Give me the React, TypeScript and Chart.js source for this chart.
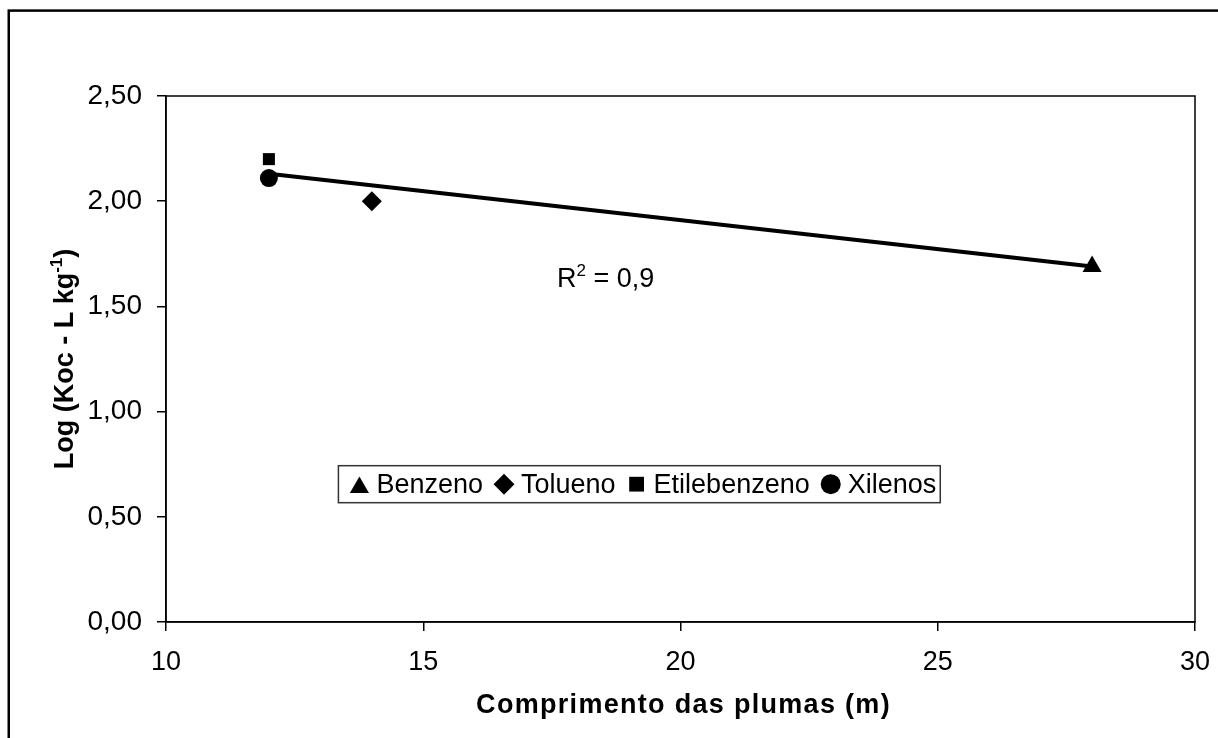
import React, { useEffect, useRef } from "react";
import { Chart, registerables } from "chart.js";

Chart.register(...registerables);

// ---- data ----
const seriesNames = ["Benzeno", "Tolueno", "Etilebenzeno", "Xilenos"];
const seriesX = [28, 14, 12, 12];
const seriesY = [1.69, 2.0, 2.2, 2.11];
const seriesStyles = ["triangle", "rectRot", "rect", "circle"];
const trendX = [12, 28];
const trendY = [2.13, 1.69];
const xTickValues = [10, 15, 20, 25, 30];
const yTickValues = [0, 0.5, 1, 1.5, 2, 2.5];
const xTitle = "Comprimento das plumas (m)";
const yTitleMain = "Log (Koc - L kg";
const yTitleSup = "-1";
const yTitleEnd = ")";
const r2Base = "R";
const r2Sup = "2";
const r2Rest = " = 0,9";

// ---- styles ----
const FONT = '"Liberation Sans", Arial, sans-serif';
const markerRadius = [11, 10, 8.5, 9];
const legendMarkerRadius = [13, 11, 11, 10];

function drawMarker(ctx: CanvasRenderingContext2D, style: string, x: number, y: number, r: number) {
  ctx.beginPath();
  if (style === "triangle") {
    for (let i = 0; i < 3; i++) {
      const a = (i * 2 * Math.PI) / 3;
      const px = x + Math.sin(a) * r;
      const py = y - Math.cos(a) * r;
      if (i === 0) ctx.moveTo(px, py);
      else ctx.lineTo(px, py);
    }
    ctx.closePath();
  } else if (style === "rectRot") {
    ctx.moveTo(x - r, y);
    ctx.lineTo(x, y - r);
    ctx.lineTo(x + r, y);
    ctx.lineTo(x, y + r);
    ctx.closePath();
  } else if (style === "rect") {
    const s = Math.SQRT1_2 * r;
    ctx.rect(x - s, y - s, 2 * s, 2 * s);
  } else {
    ctx.arc(x, y, r, 0, Math.PI * 2);
  }
  ctx.fill();
}

const decorPlugin = {
  id: "decor",
  afterDraw(chart: any) {
    const { ctx, chartArea, scales } = chart;
    const xs = scales.x;
    const ys = scales.y;
    ctx.save();
    ctx.fillStyle = "#000";
    ctx.strokeStyle = "#000";

    // outer frame
    ctx.lineWidth = 2.5;
    ctx.strokeRect(8.75, 10.6, 3000, 3000);

    // plot border
    ctx.lineWidth = 1.5;
    ctx.strokeRect(chartArea.left, chartArea.top, chartArea.right - chartArea.left, chartArea.bottom - chartArea.top);

    // R² annotation
    const rx = xs.getPixelForValue(17.6);
    const ry = ys.getPixelForValue(1.59);
    ctx.textBaseline = "alphabetic";
    ctx.textAlign = "left";
    ctx.font = `27px ${FONT}`;
    ctx.fillText(r2Base, rx, ry);
    let cx = rx + ctx.measureText(r2Base).width;
    ctx.font = `17px ${FONT}`;
    ctx.fillText(r2Sup, cx, ry - 11);
    cx += ctx.measureText(r2Sup).width;
    ctx.font = `27px ${FONT}`;
    ctx.fillText(r2Rest, cx, ry);

    // x title
    const midX = (chartArea.left + chartArea.right) / 2 + 3;
    ctx.font = `bold 27px ${FONT}`;
    (ctx as any).letterSpacing = "1.3px";
    ctx.textAlign = "center";
    ctx.fillText(xTitle, midX, 713);
    (ctx as any).letterSpacing = "0px";

    // y title (rotated)
    const midY = (chartArea.top + chartArea.bottom) / 2;
    ctx.save();
    ctx.translate(73, midY);
    ctx.rotate(-Math.PI / 2);
    ctx.textAlign = "left";
    ctx.font = `bold 27px ${FONT}`;
    const w1 = ctx.measureText(yTitleMain).width;
    const w3 = ctx.measureText(yTitleEnd).width;
    ctx.font = `bold 17px ${FONT}`;
    const w2 = ctx.measureText(yTitleSup).width;
    const total = w1 + w2 + w3;
    let tx = -total / 2;
    ctx.font = `bold 27px ${FONT}`;
    ctx.fillText(yTitleMain, tx, 0);
    tx += w1;
    ctx.font = `bold 17px ${FONT}`;
    ctx.fillText(yTitleSup, tx, -11);
    tx += w2;
    ctx.font = `bold 27px ${FONT}`;
    ctx.fillText(yTitleEnd, tx, 0);
    ctx.restore();

    // legend
    ctx.font = `27px ${FONT}`;
    ctx.textAlign = "left";
    ctx.textBaseline = "middle";
    const padL = 21;
    const markToText = 17;
    const textToMark = 21;
    const padR = 4;
    const labels = chart.data.datasets.filter((d: any) => d.showInLegend).map((d: any) => d.label);
    const styles = chart.data.datasets.filter((d: any) => d.showInLegend).map((d: any) => d.pointStyle);
    const widths = labels.map((l: string) => ctx.measureText(l).width);
    let boxW = padL + padR;
    widths.forEach((w: number, i: number) => {
      boxW += markToText + w + (i < widths.length - 1 ? textToMark : 0);
    });
    const boxH = 37;
    const lcx = xs.getPixelForValue(19.2);
    const lcy = ys.getPixelForValue(0.655);
    const bx = lcx - boxW / 2;
    const by = lcy - boxH / 2;
    ctx.fillStyle = "#fff";
    ctx.fillRect(bx, by, boxW, boxH);
    ctx.strokeStyle = "#333";
    ctx.lineWidth = 1.5;
    ctx.strokeRect(bx, by, boxW, boxH);
    ctx.fillStyle = "#000";
    let px = bx + padL;
    labels.forEach((l: string, i: number) => {
      const r = legendMarkerRadius[i];
      const my = styles[i] === "triangle" ? lcy + r / 4 : lcy;
      drawMarker(ctx, styles[i], px, my, styles[i] === "triangle" ? r * 0.85 : styles[i] === "rectRot" ? r * 0.95 : styles[i] === "rect" ? r * 0.95 : r);
      ctx.fillText(l, px + markToText, lcy + 1);
      px += markToText + widths[i] + textToMark;
    });

    ctx.restore();
  },
};

export default function App() {
  const ref = useRef<HTMLCanvasElement | null>(null);

  useEffect(() => {
    if (!ref.current) return;
    const pointSets = seriesNames.map((name, i) => ({
      type: "scatter" as const,
      label: name,
      showInLegend: true,
      data: [{ x: seriesX[i], y: seriesY[i] }],
      pointStyle: seriesStyles[i],
      pointRadius: markerRadius[i],
      pointBackgroundColor: "#000",
      pointBorderColor: "#000",
      pointBorderWidth: 0,
      showLine: false,
      order: 1,
    }));
    const trend = {
      type: "scatter" as const,
      label: "trend",
      showInLegend: false,
      data: trendX.map((x, i) => ({ x, y: trendY[i] })),
      showLine: true,
      borderColor: "#000",
      borderWidth: 4,
      pointRadius: 0,
      order: 2,
    };

    const chart = new Chart(ref.current, {
      type: "scatter",
      data: { datasets: [...pointSets, trend] as any },
      options: {
        animation: false,
        responsive: false,
        maintainAspectRatio: false,
        devicePixelRatio: 1,
        layout: { padding: { left: 0, top: 96, right: 23, bottom: 0 } },
        plugins: {
          legend: { display: false },
          tooltip: { enabled: false },
          title: { display: false },
        },
        scales: {
          x: {
            type: "linear",
            min: 10,
            max: 30,
            afterFit: (s: any) => {
              s.height = 116;
              s.paddingRight = 0;
              s.paddingLeft = 0;
            },
            afterBuildTicks: (s: any) => {
              s.ticks = xTickValues.map((v) => ({ value: v }));
            },
            ticks: {
              color: "#000",
              font: { family: FONT, size: 27 },
              padding: 15,
              maxRotation: 0,
              callback: (v: any) => String(v),
            },
            grid: {
              drawOnChartArea: false,
              drawTicks: true,
              tickLength: 9,
              color: "#000",
              lineWidth: 1.5,
            },
            border: { display: true, color: "#000", width: 1.5 },
          },
          y: {
            type: "linear",
            min: 0,
            max: 2.5,
            afterFit: (s: any) => {
              s.width = 166;
              s.paddingTop = 0;
              s.paddingBottom = 0;
            },
            afterBuildTicks: (s: any) => {
              s.ticks = yTickValues.map((v) => ({ value: v }));
            },
            ticks: {
              color: "#000",
              font: { family: FONT, size: 28 },
              padding: 15,
              callback: (v: any) => Number(v).toFixed(2).replace(".", ","),
            },
            grid: {
              drawOnChartArea: false,
              drawTicks: true,
              tickLength: 9,
              color: "#000",
              lineWidth: 1.5,
            },
            border: { display: true, color: "#000", width: 1.5 },
          },
        },
      } as any,
      plugins: [decorPlugin],
    });
    return () => chart.destroy();
  }, []);

  return (
    <div style={{ position: "fixed", left: 0, top: 0, width: 1218, height: 738, background: "#fff" }}>
      <canvas ref={ref} width={1218} height={738} style={{ width: 1218, height: 738, display: "block" }} />
    </div>
  );
}
